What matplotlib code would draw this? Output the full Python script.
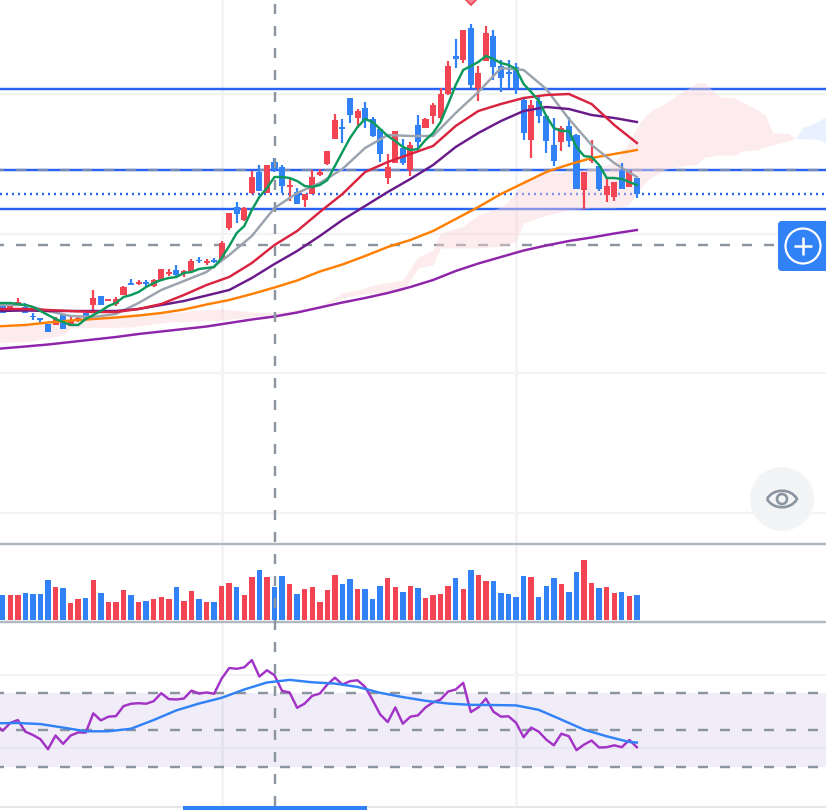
import matplotlib
matplotlib.use('Agg')
import matplotlib.pyplot as plt
import numpy as np
from matplotlib.patches import Circle, FancyBboxPatch, PathPatch, Rectangle
from matplotlib.path import Path

plt.rcParams['lines.scale_dashes'] = False

UP = '#f24452'
DOWN = '#3182f6'
LEVEL = '#2962f5'
DASH = '#8b95a1'
GRID = '#f2f3f5'
SEP = '#b0b8c1'

# daily candles
opens = [294, 291, 296, 293, 284, 282, 276, 275, 286, 274, 279, 287, 295, 304, 299, 296, 305, 317, 316, 318,
         314, 320, 326, 330, 327, 329, 340, 337, 340, 341, 372, 393, 380, 407, 428, 407, 438, 433, 413, 408,
         400, 406, 425, 436, 461, 473, 502, 482, 492, 481, 471, 422, 437, 452, 430, 475, 472, 484, 482, 506,
         544, 540, 572, 512, 539, 564, 534, 528, 533, 500, 460, 499, 484, 455, 458, 474, 465, 410, 439, 434,
         405, 403, 429, 413, 422]
highs = [296, 297, 302, 297, 287, 282, 276, 283, 286, 283, 283, 287, 310, 304, 301, 303, 314, 321, 320, 320,
         321, 331, 331, 335, 330, 341, 343, 341, 342, 359, 387, 398, 393, 429, 435, 435, 442, 435, 422, 412,
         406, 430, 431, 449, 486, 481, 502, 491, 498, 483, 471, 446, 469, 461, 458, 485, 482, 497, 512, 539,
         561, 570, 576, 534, 574, 570, 540, 540, 537, 503, 500, 503, 484, 482, 474, 483, 466, 428, 460, 434,
         421, 418, 437, 429, 422]
lows = [287, 288, 294, 287, 280, 277, 268, 275, 271, 274, 278, 281, 288, 295, 299, 294, 305, 315, 315, 313,
        313, 320, 324, 322, 323, 329, 337, 335, 337, 341, 370, 377, 379, 406, 409, 407, 428, 407, 399, 396,
        393, 406, 424, 435, 461, 457, 477, 472, 472, 463, 438, 416, 437, 435, 424, 452, 472, 476, 480, 505,
        532, 537, 512, 499, 539, 520, 508, 512, 506, 460, 442, 477, 447, 434, 449, 453, 411, 391, 437, 409,
        398, 399, 411, 413, 402]
closes = [287, 294, 298, 287, 283, 280, 268, 281, 271, 280, 282, 281, 302, 295, 301, 301, 313, 315, 318, 316,
          320, 331, 328, 325, 329, 339, 339, 339, 338, 357, 387, 386, 392, 423, 409, 435, 430, 414, 415, 396,
          406, 423, 428, 449, 480, 471, 485, 489, 480, 464, 446, 433, 469, 437, 455, 458, 481, 495, 506, 534,
          541, 570, 515, 527, 567, 533, 522, 526, 512, 467, 495, 484, 459, 439, 472, 459, 411, 428, 441, 411,
          414, 418, 411, 429, 406]
volumes = [25, 25, 25, 27, 26, 26, 40, 33, 32, 17, 21, 22, 40, 27, 18, 18, 30, 25, 18, 19,
           21, 23, 21, 33, 19, 29, 21, 18, 18, 34, 37, 33, 25, 43, 50, 43, 33, 44, 36, 26,
           31, 33, 18, 30, 45, 36, 41, 31, 31, 21, 34, 42, 33, 28, 34, 32, 22, 25, 26, 34,
           42, 31, 50, 45, 39, 39, 27, 26, 23, 44, 43, 23, 34, 42, 36, 28, 48, 60, 37, 32,
           33, 27, 28, 24, 25]

# moving averages, sampled every third session
ma_idx = [-1] + list(range(3, 85, 3))
ma10 = [295, 295, 289, 284, 283, 286, 297, 310, 319, 328, 345, 364, 392, 407, 417, 431, 452, 465, 464, 464,
        487, 508, 532, 530, 511, 481, 455, 437, 423]
ma20 = [291, 291, 290, 289, 288, 288, 291, 296, 305, 315, 323, 337, 355, 369, 388, 406, 428, 438, 446, 454,
        474, 489, 496, 502, 505, 506, 496, 475, 457]
ma40 = [289, 289.5, 289, 289, 289, 289, 291, 295, 299, 304.5, 310, 322, 336, 349, 364, 380, 394, 408, 421, 435,
        453, 467, 479, 489, 493, 491, 485, 482, 478]
ma60 = [273.5, 275, 277.5, 279.5, 281, 282.5, 284.5, 287, 290.5, 295.5, 300, 306, 312.5, 319.5, 328.5, 335.5, 344,
        353, 360, 369, 381, 393, 406, 417, 428, 435.5, 442, 446, 450]
ma120 = [251, 253.5, 255.5, 258, 260.5, 263, 266, 268.5, 271, 273.5, 277, 280.5, 283.5, 287.5, 292.5, 297.5, 302,
         307, 313, 320, 329, 336.5, 343, 349.5, 354.5, 359, 362.5, 366.5, 370]
# the short average starts one session before the first candle
ma5 = [297, 297, 297, 296, 295, 293, 289, 285, 281, 278, 275, 275, 281, 285, 289, 294, 297, 303, 305, 308,
       313, 317, 320, 322, 323, 327, 328, 331, 332, 333, 342, 354, 367, 374, 390, 403, 412, 423, 423, 422,
       419, 414, 413, 415, 420, 434, 448, 462, 473, 481, 478, 471, 464, 459, 453, 450, 451, 460, 467, 478,
       496, 515, 530, 534, 538, 544, 541, 537, 535, 531, 516, 508, 499, 484, 472, 469, 469, 453, 444, 443,
       435, 422, 422, 421, 418, 415]

# ichimoku cloud, runs past the last candle
cloud_idx = [-1, 4, 8, 9, 17, 22, 26, 29, 33, 36, 42, 45, 47, 49, 53, 55, 57, 58, 61, 63, 66, 67, 68, 69, 72, 75,
             78, 80, 81, 82, 83, 84, 85, 86, 87, 88, 90, 92, 93, 95, 97, 98, 100, 101, 102, 104, 105,
             106, 107, 108, 109]
span_a = [272, 275, 279, 280, 284, 287, 290, 291, 288, 287, 294, 307, 310, 315, 320, 343, 350, 367, 374, 385,
          393, 399, 408, 420, 428, 428, 432, 435, 438, 447, 459, 473, 483, 490, 493, 498, 508, 517, 517, 503,
          502, 498, 490, 485, 467, 467, 461.5, 461, 461, 460.5, 457]
span_b = [257, 259, 265, 272, 273, 278, 279, 280, 283, 284, 293, 302, 305, 307, 308, 332, 335, 352, 352, 352,
          354, 355, 360, 377, 385, 390, 392, 392, 392, 393, 396, 408, 417, 423, 427, 431, 434, 436, 443, 445,
          445, 449, 450, 453, 455, 459, 461.5, 473, 475, 479, 483]

# RSI and its signal line
rsi_values = [53.2, 49.6, 53.8, 55.4, 49.1, 47.3, 45.0, 39.6, 47.0, 42.5, 47.0, 48.7, 48.6, 59.0, 55.2, 57.2, 57.5,
              62.9, 64.2, 64.5, 64.2, 65.6, 69.9, 66.7, 66.5, 67.0, 71.3, 69.7, 70.3, 69.6, 77.8, 83.5, 83.1, 83.9,
              87.8, 78.9, 82.3, 79.6, 71.2, 70.3, 62.0, 64.3, 68.5, 69.7, 74.6, 78.3, 74.6, 76.4, 76.9, 73.3, 66.1,
              58.4, 54.3, 62.2, 53.4, 57.2, 57.9, 62.2, 64.9, 66.5, 70.8, 71.9, 75.5, 59.7, 62.2, 67.0, 59.9, 57.2,
              57.4, 53.9, 46.1, 51.3, 49.1, 44.8, 41.7, 48.0, 46.6, 39.1, 42.1, 44.3, 40.5, 40.7, 41.7, 40.7, 44.6,
              40.7]
signal_idx = [-1] + list(range(2, 84, 3)) + [84]
signal_values = [53.6, 53.8, 53.2, 51.3, 49.3, 49.3, 50.7, 55.4, 60.6, 64.3, 67.4, 71.9, 75.7, 77.1, 75.8, 75.1,
                 73.3, 70.1, 67.8, 65.8, 64.3, 63.6, 63.5, 63.3, 60.9, 55.6, 50.2, 46.6, 43.5, 43.2]

price_grid = [506, 366, 227, 87]
rsi_grid = [80, 40]
rsi_levels = [70, 50, 30]
support_levels = [511, 430, 391]
dashed_level = 355
month_starts = [29, 68]
cursor_idx = 36.05
signal_candle = 62

W, H = 826, 810
XLIM = (-0.358, 109.05)
LINE_W = 1.75
dash_style = (4.32, (7.2, 8.64))


def panel(top, bottom):
    a = fig.add_axes([0, 1 - bottom / H, 1, (bottom - top) / H])
    a.set_xlim(XLIM)
    a.patch.set_alpha(0)
    a.set_xticks([])
    a.set_yticks([])
    for s in a.spines.values():
        s.set_visible(False)
    return a


fig = plt.figure(figsize=(W / 100, H / 100), dpi=100, facecolor='white')

# vertical grid sits behind every panel
ax_bg = panel(0, H)
ax_bg.set_ylim(H, 0)
ax_bg.vlines(month_starts, 0, 806, color=GRID, lw=1.8)

ax = panel(0, 544)
ax.set_ylim(56, 600)
ax_vol = panel(544, 622)
ax_vol.set_ylim(-2, 76)
ax_rsi = panel(622, 806)
ax_rsi.set_ylim(8.9, 108.4)

idx = np.arange(len(closes))
opens_a, closes_a = np.array(opens), np.array(closes)
colors = [UP if c >= o else DOWN for o, c in zip(opens, closes)]

# price panel
for g in price_grid:
    ax.axhline(g, color=GRID, lw=1.6, zorder=1)
for lvl in support_levels:
    ax.axhline(lvl, color=LEVEL, lw=LINE_W, zorder=2)
ax.axhline(support_levels[1], color=DASH, lw=LINE_W, ls=dash_style, alpha=0.8, zorder=2.1)
ax.axhline(dashed_level, color=DASH, lw=LINE_W, ls=dash_style, zorder=2)
ax.axhline(closes[-1], color=LEVEL, lw=LINE_W, ls=(0, (1.44, 2.88)), zorder=2)

a = np.array(span_a)
b = np.array(span_b)
ax.fill_between(cloud_idx, a, b, where=a >= b, color='#fbd5da', alpha=0.45, lw=0, zorder=3, interpolate=True)
ax.fill_between(cloud_idx, a, b, where=a <= b, color='#cce0fb', alpha=0.45, lw=0, zorder=3, interpolate=True)

ax.vlines(idx, lows, highs, colors=colors, lw=1.6, zorder=4)
ax.bar(idx, np.maximum(np.abs(closes_a - opens_a), 1.5), bottom=np.minimum(opens_a, closes_a),
       width=0.8, color=colors, zorder=4)

ax.plot(ma_idx, ma120, color='#8e24aa', lw=LINE_W, zorder=5)
ax.plot(ma_idx, ma60, color='#ff8000', lw=LINE_W, zorder=5)
ax.plot(ma_idx, ma10, color='#9aa3ae', lw=LINE_W, zorder=5)
ax.plot(ma_idx, ma40, color='#6a1b8a', lw=LINE_W, zorder=5)
ax.plot(ma_idx, ma20, color='#d9233f', lw=LINE_W, zorder=5)
ax.plot(np.arange(-1, len(ma5) - 1), ma5, color='#0b9a5c', lw=LINE_W, zorder=5)

# peak marker, cut by the top edge
ax.plot([signal_candle], [601], marker='D', ms=6, mfc='#f98b94', mec=UP, mew=1.2, zorder=6, clip_on=True)

# volume panel
ax_vol.bar(idx, volumes, width=0.72, color=colors, zorder=3)
for side in ('top', 'bottom'):
    ax_vol.spines[side].set_visible(True)
    ax_vol.spines[side].set_color(SEP)
    ax_vol.spines[side].set_linewidth(LINE_W)

# RSI panel
ax_rsi.axhspan(rsi_levels[2], rsi_levels[0], color='#7d5cc8', alpha=0.11, lw=0, zorder=1)
for g in rsi_grid:
    ax_rsi.axhline(g, color=GRID if g == 80 else '#e8e5f2', lw=1.6, zorder=2)
for lvl in rsi_levels:
    ax_rsi.axhline(lvl, color=DASH, lw=LINE_W, ls=dash_style, zorder=3)
ax_rsi.plot(np.arange(-1, len(rsi_values) - 1), rsi_values, color='#a233c6', lw=LINE_W, zorder=4)
ax_rsi.plot(signal_idx, signal_values, color='#3182f6', lw=LINE_W, zorder=5)

# cursor, scrollbar and floating buttons on top
ax_top = panel(0, H)
ax_top.set_ylim(H, 0)
ax_top.plot([cursor_idx, cursor_idx], [0, 806], color=DASH, lw=LINE_W, ls=(12.96, (7.2, 8.64)), zorder=6)

ax_ui = fig.add_axes([0, 0, 1, 1])
ax_ui.set_xlim(0, W)
ax_ui.set_ylim(H, 0)
ax_ui.axis('off')
ax_ui.patch.set_alpha(0)
ax_ui.add_patch(Rectangle((0, 806), W, 2, color='#e5e8eb', lw=0))
ax_ui.add_patch(Rectangle((183, 806), 184, 4, color='#3182f6', lw=0))

ax_ui.add_patch(FancyBboxPatch((778, 221), 70, 50, boxstyle='round,pad=0,rounding_size=4', fc='#3182f6', ec='none'))
ax_ui.add_patch(Circle((803, 246), 17.5, fc='none', ec='white', lw=1.6))
ax_ui.plot([794, 812], [246, 246], color='white', lw=1.8, solid_capstyle='butt')
ax_ui.plot([803, 803], [237, 255], color='white', lw=1.8, solid_capstyle='butt')

ax_ui.add_patch(Circle((782, 499), 32, fc='#f2f4f6', ec='none', alpha=0.92))
eye = Path([(767, 499), (773, 488), (791, 488), (797, 499), (791, 510), (773, 510), (767, 499)],
           [Path.MOVETO, Path.CURVE4, Path.CURVE4, Path.CURVE4, Path.CURVE4, Path.CURVE4, Path.CURVE4])
ax_ui.add_patch(PathPatch(eye, fc='none', ec='#8b95a1', lw=1.9))
ax_ui.add_patch(Circle((782, 499), 5, fc='none', ec='#8b95a1', lw=1.9))

fig.savefig('out.png', dpi=100)
